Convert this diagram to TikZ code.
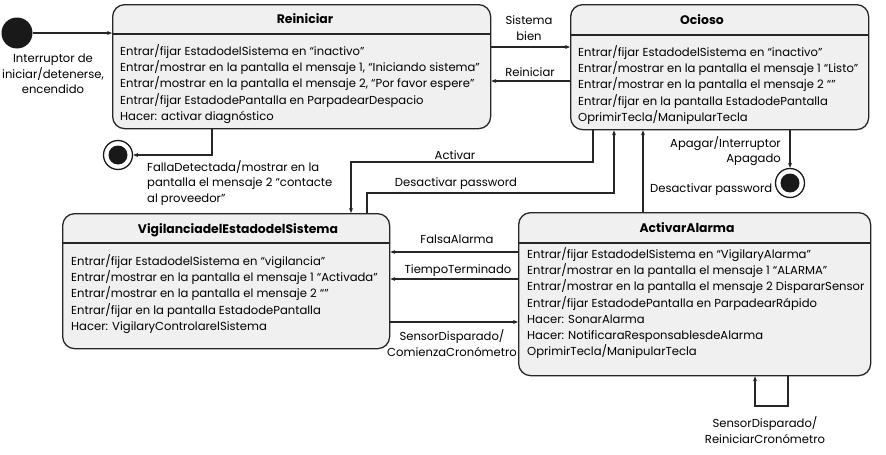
\documentclass[tikz,border=0pt]{standalone}
\usepackage{fontspec}
\setmainfont{Poppins}
\usetikzlibrary{arrows.meta,calc}
\begin{document}
\begin{tikzpicture}[x=1pt,y=-1pt,
 statebox/.style={draw=black!85, line width=1.3pt, rounded corners=12pt, fill=gray!12, inner sep=0pt, anchor=north west},
 body/.style={anchor=north west, inner sep=0pt, align=left, text=black, font=\fontsize{11.6}{16.3}\selectfont},
 ttl/.style={inner sep=0pt, text=black, font=\fontsize{12.4}{14}\selectfont\bfseries},
 lbl/.style={inner sep=0pt, text=black, font=\fontsize{11.6}{15.5}\selectfont},
 conn/.style={line width=1.1pt, draw=black!85, -{Stealth[length=5pt,width=4pt]}},
 divider/.style={line width=1.1pt, draw=black!85},
 initst/.style={circle, fill=black!90, minimum size=31pt, inner sep=0pt},
 finout/.style={circle, draw=black!90, line width=1.3pt, fill=white, minimum size=29pt, inner sep=0pt},
 finin/.style={circle, fill=black!90, minimum size=19pt, inner sep=0pt},
]
\useasboundingbox (0,0) rectangle (886,455);

% state boxes
\node[statebox, minimum width=378pt, minimum height=124pt] (rein) at (112,4) {};
\node[statebox, minimum width=298pt, minimum height=125pt] (ocio) at (570,4) {};
\node[statebox, minimum width=327pt, minimum height=135pt] (vig) at (62,213) {};
\node[statebox, minimum width=352pt, minimum height=163pt] (act) at (518,212) {};

% dividers
\coordinate (dvr) at (0,34);
\coordinate (dvo) at (0,35);
\coordinate (dvv) at (0,243);
\coordinate (dva) at (0,243);
\draw[divider] (dvr -| rein.west) -- (dvr -| rein.east);
\draw[divider] (dvo -| ocio.west) -- (dvo -| ocio.east);
\draw[divider] (dvv -| vig.west) -- (dvv -| vig.east);
\draw[divider] (dva -| act.west) -- (dva -| act.east);

% titles
\node[ttl] (reint) at (305,19) {Reiniciar};
\node[ttl] (ociot) at (702,20) {Ocioso};
\node[ttl] (vigt) at (238,230) {VigilanciadelEstadodelSistema};
\node[ttl] (actt) at (687,228) {ActivarAlarma};

% bodies
\node[body] (reinb) at (120,44) {Entrar/fijar EstadodelSistema en “inactivo”\\
Entrar/mostrar en la pantalla el mensaje 1, “Iniciando sistema”\\
Entrar/mostrar en la pantalla el mensaje 2, “Por favor espere”\\
Entrar/fijar EstadodePantalla en ParpadearDespacio\\
Hacer: activar diagnóstico};
\node[body] (ociob) at (578,45) {Entrar/fijar EstadodelSistema en “inactivo”\\
Entrar/mostrar en la pantalla el mensaje 1 “Listo”\\
Entrar/mostrar en la pantalla el mensaje 2 “”\\
Entrar/fijar en la pantalla EstadodePantalla\\
OprimirTecla/ManipularTecla};
\node[body] (vigb) at (71,254) {Entrar/fijar EstadodelSistema en “vigilancia”\\
Entrar/mostrar en la pantalla el mensaje 1 “Activada”\\
Entrar/mostrar en la pantalla el mensaje 2 “”\\
Entrar/fijar en la pantalla EstadodePantalla\\
Hacer: VigilaryControlarelSistema};
\node[body] (actb) at (527,247) {Entrar/fijar EstadodelSistema en “VigilaryAlarma”\\
Entrar/mostrar en la pantalla el mensaje 1 “ALARMA”\\
Entrar/mostrar en la pantalla el mensaje 2 DispararSensor\\
Entrar/fijar EstadodePantalla en ParpadearRápido\\
Hacer: SonarAlarma\\
Hacer: NotificaraResponsablesdeAlarma\\
OprimirTecla/ManipularTecla};

% pseudo states
\node[initst] (init) at (17,33) {};
\node[finout] (fin1) at (118,155) {};
\node[finin] (fin1c) at (fin1) {};
\node[finout] (fin2) at (790,183) {};
\node[finin] (fin2c) at (fin2) {};

% initial transition
\draw[conn] (init.east) -- (init.east -| rein.west);
\node[lbl, align=center] (initl) at (53,74) {Interruptor de\\iniciar/detenerse,\\encendido};

% Reiniciar <-> Ocioso
\coordinate (sb) at (530,47);
\coordinate (rr) at (530,81);
\draw[conn] (sb -| rein.east) -- (sb -| ocio.west);
\draw[conn] (rr -| ocio.west) -- (rr -| rein.east);
\node[lbl, align=center] (sbl) at (529,28) {Sistema\\bien};
\node[lbl] (rrl) at (530,72) {Reiniciar};

% Falla detectada
\coordinate (fd) at (212,155);
\draw[conn] (fd |- rein.south) -- (fd) -- (fin1.east);
\node[lbl, align=left, anchor=north west] (fdl) at (147,160) {FallaDetectada/mostrar en la\\pantalla el mensaje 2 “contacte\\al proveedor”};

% Activar
\coordinate (ac1) at (593,162);
\coordinate (ac2) at (351,162);
\draw[conn] (ac1 |- ocio.south) -- (ac1) -- (ac2) -- (ac2 |- vig.north);
\node[lbl] (acl) at (455,155) {Activar};

% Desactivar password (from Vigilancia)
\coordinate (d1a) at (367,193);
\coordinate (d1b) at (614,193);
\draw[conn] (d1a |- vig.north) -- (d1a) -- (d1b) -- (d1b |- ocio.south);
\node[lbl] (d1l) at (456,184) {Desactivar password};

% Desactivar password (from ActivarAlarma)
\coordinate (d2) at (643,190);
\draw[conn] (d2 |- act.north) -- (d2 |- ocio.south);
\node[lbl, anchor=west] (d2l) at (650,190) {Desactivar password};

% Apagar
\draw[conn] (fin2 |- ocio.south) -- (fin2.north);
\node[lbl, align=right, anchor=east] (apl) at (781,151) {Apagar/Interruptor\\Apagado};

% Vigilancia <-> ActivarAlarma
\coordinate (fa) at (450,252);
\coordinate (tt) at (450,279);
\coordinate (sd) at (450,322);
\draw[conn] (fa -| act.west) -- (fa -| vig.east);
\draw[conn] (tt -| act.west) -- (tt -| vig.east);
\draw[conn] (sd -| vig.east) -- (sd -| act.west);
\node[lbl] (fal) at (457,239) {FalsaAlarma};
\node[lbl] (ttl) at (458,271) {TiempoTerminado};
\node[lbl, align=center] (sdl) at (452,343) {SensorDisparado/\\ComienzaCronómetro};

% self loop
\coordinate (l1) at (788,406);
\coordinate (l2) at (755,406);
\draw[conn] (l1 |- act.south) -- (l1) -- (l2) -- (l2 |- act.south);
\node[lbl, align=center] (ll) at (765,430) {SensorDisparado/\\ReiniciarCronómetro};
\end{tikzpicture}
\end{document}
